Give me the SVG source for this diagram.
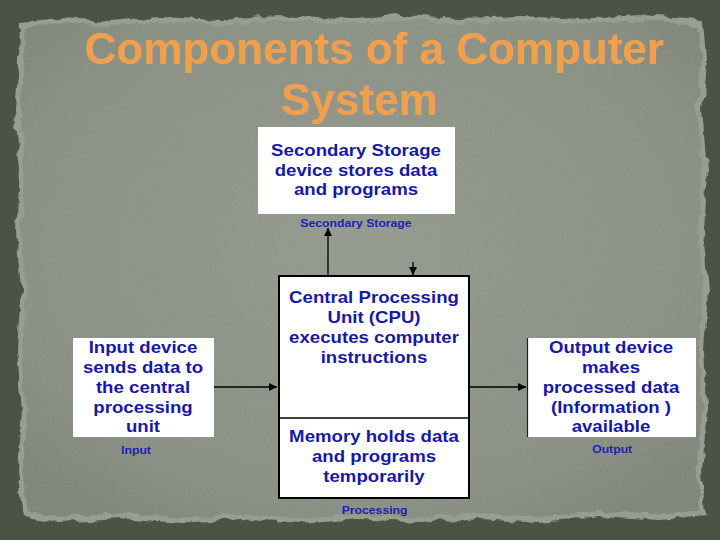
<svg xmlns="http://www.w3.org/2000/svg" width="720" height="540" viewBox="0 0 720 540">
<defs>
<style>
.box{fill:#ffffff;}
.t{font-family:"Liberation Sans",Arial,sans-serif;font-weight:bold;font-size:16px;fill:#1818a8;text-anchor:middle;}
.lbl{font-family:"Liberation Sans",Arial,sans-serif;font-weight:bold;font-size:10.5px;fill:#2222b4;text-anchor:middle;}
.title{font-family:"Liberation Sans",Arial,sans-serif;font-weight:bold;font-size:44px;fill:#f0a04c;text-anchor:middle;}
.ln{stroke:#000;stroke-width:1.3;fill:none;}
</style>
<marker id="ah" viewBox="0 0 10 10" refX="10" refY="5" markerWidth="8" markerHeight="8" markerUnits="userSpaceOnUse" orient="auto-start-reverse">
<path d="M0,0 L10,5 L0,10 Z" fill="#000"/>
</marker>
<filter id="torn" x="-5%" y="-5%" width="110%" height="110%">
<feTurbulence type="fractalNoise" baseFrequency="0.06" numOctaves="3" seed="4" result="n"/>
<feDisplacementMap in="SourceGraphic" in2="n" scale="9" xChannelSelector="R" yChannelSelector="G"/>
</filter>
<filter id="grain">
<feTurbulence type="fractalNoise" baseFrequency="0.9" numOctaves="2" seed="2" result="g"/>
<feColorMatrix in="g" type="matrix" values="0 0 0 0 0.5  0 0 0 0 0.52  0 0 0 0 0.48  0 0 0 0.12 0" result="c"/>
<feComposite in="c" in2="SourceGraphic" operator="in" result="m"/>
<feMerge><feMergeNode in="SourceGraphic"/><feMergeNode in="m"/></feMerge>
</filter>
<radialGradient id="pg" cx="50%" cy="45%" r="65%">
<stop offset="0" stop-color="#93998d"/>
<stop offset="0.8" stop-color="#888e82"/>
<stop offset="1" stop-color="#7d8478"/>
</radialGradient>
</defs>

<g id="background">
<rect x="0" y="0" width="720" height="540" fill="#4b5444"/>
<g filter="url(#torn)">
<path d="M20,22 L60,18 L110,21 L160,17 L220,20 L280,16 L340,19 L400,15 L460,18 L520,16 L580,19 L640,15 L690,18 L703,22 L706,60 L702,110 L707,170 L703,230 L708,290 L704,350 L707,410 L702,470 L705,515 L660,520 L600,516 L540,522 L480,518 L420,523 L360,519 L300,524 L240,519 L180,523 L120,518 L60,522 L24,517 L18,470 L22,410 L17,350 L21,290 L16,230 L20,170 L15,110 L19,60 Z" fill="#989d91"/>
</g>
<g filter="url(#torn)">
<path d="M25,27 L60,23 L110,26 L160,22 L220,25 L280,21 L340,24 L400,20 L460,23 L520,21 L580,24 L640,20 L686,23 L698,27 L701,60 L697,110 L702,170 L698,230 L703,290 L699,350 L702,410 L697,470 L700,510 L660,515 L600,511 L540,517 L480,513 L420,518 L360,514 L300,519 L240,514 L180,518 L120,513 L60,517 L29,512 L23,470 L27,410 L22,350 L26,290 L21,230 L25,170 L20,110 L24,60 Z" fill="url(#pg)" filter="url(#grain)"/>
</g>
</g>

<g id="title">
<text class="title" x="374" y="64">Components of a Computer</text>
<text class="title" x="359" y="115">System</text>
</g>

<g id="connectors">
<line class="ln" x1="328" y1="276" x2="328" y2="228" marker-end="url(#ah)"/>
<line class="ln" x1="413" y1="262" x2="413" y2="275" marker-end="url(#ah)"/>
<line class="ln" x1="374" y1="371" x2="374" y2="417" marker-start="url(#ah)" marker-end="url(#ah)"/>
<line class="ln" x1="214" y1="387" x2="277" y2="387" marker-end="url(#ah)"/>
<line class="ln" x1="469" y1="387" x2="526" y2="387" marker-end="url(#ah)"/>
</g>

<g id="secondary-storage">
<rect class="box" x="258" y="127" width="197" height="87"/>
<g transform="translate(356,0) scale(1.165,1)">
<text class="t" x="0" y="156">Secondary Storage</text>
<text class="t" x="0" y="176">device stores data</text>
<text class="t" x="0" y="195">and programs</text>
<text class="lbl" x="0" y="227">Secondary Storage</text>
</g>
</g>

<g id="cpu">
<rect class="box" x="279" y="276" width="190" height="222" stroke="#000" stroke-width="2"/>
<line x1="279" y1="418" x2="469" y2="418" stroke="#000" stroke-width="1.3"/>
<g transform="translate(374,0) scale(1.165,1)">
<text class="t" x="0" y="303">Central Processing</text>
<text class="t" x="0" y="323">Unit (CPU)</text>
<text class="t" x="0" y="343">executes computer</text>
<text class="t" x="0" y="363">instructions</text>
<text class="t" x="0" y="442">Memory holds data</text>
<text class="t" x="0" y="462">and programs</text>
<text class="t" x="0" y="482">temporarily</text>
<text class="lbl" x="0.5" y="514">Processing</text>
</g>
</g>

<g id="input">
<rect class="box" x="73" y="338" width="141" height="99"/>
<g transform="translate(143,0) scale(1.165,1)">
<text class="t" x="0" y="353">Input device</text>
<text class="t" x="0" y="373">sends data to</text>
<text class="t" x="0" y="393">the central</text>
<text class="t" x="0" y="413">processing</text>
<text class="t" x="0" y="432">unit</text>
<text class="lbl" x="-6" y="454">Input</text>
</g>
</g>

<g id="output">
<rect class="box" x="527" y="338" width="169" height="99"/>
<line x1="527.5" y1="338" x2="527.5" y2="437" stroke="#222" stroke-width="1.2"/>
<g transform="translate(611,0) scale(1.165,1)">
<text class="t" x="0" y="353">Output device</text>
<text class="t" x="0" y="373">makes</text>
<text class="t" x="0" y="393">processed data</text>
<text class="t" x="0" y="413">(Information )</text>
<text class="t" x="0" y="432">available</text>
<text class="lbl" x="1" y="453">Output</text>
</g>
</g>
</svg>
